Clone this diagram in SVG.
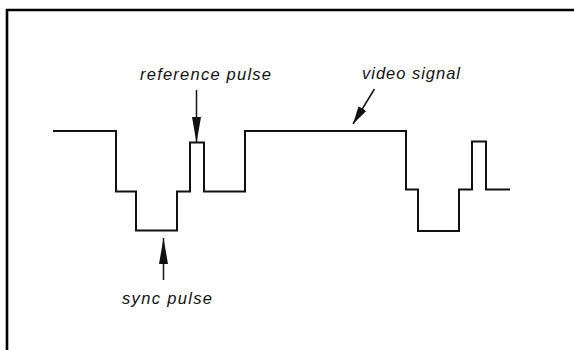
<svg xmlns="http://www.w3.org/2000/svg" width="574" height="350" viewBox="0 0 574 350">
  <style>
    .frame { fill: none; stroke: #000; stroke-width: 2.6; }
    .signal { fill: none; stroke: #111; stroke-width: 2; stroke-linejoin: miter; }
    .arrow { fill: none; stroke: #111; stroke-width: 1.5; }
    .label { font-family: "Liberation Sans", Arial, sans-serif; font-style: italic; font-size: 16.5px; fill: #111; }
  </style>
  <defs>
    <marker id="headLong" markerUnits="userSpaceOnUse" markerWidth="27" markerHeight="10" refX="26" refY="4.5" orient="auto">
      <path d="M0,0 L26,4.5 L0,9 Z" fill="#111"/>
    </marker>
    <marker id="headShort" markerUnits="userSpaceOnUse" markerWidth="19" markerHeight="10" refX="18" refY="4.5" orient="auto">
      <path d="M0,0 L18,4.5 L0,9 Z" fill="#111"/>
    </marker>
  </defs>
  <rect width="574" height="350" fill="#fff"/>
  <path class="frame" d="M7,350 V10 H574"/>
  <g id="waveform">
    <path class="signal" d="M53,131 H116 V191.5 H136 V230.5 H177 V191.5 H190 V142.5 H204 V191.5 H245 V131 H406 V189.5 H418 V231 H459 V189.5 H472 V141.5 H486 V189.5 H510"/>
  </g>
  <g id="reference-pulse">
    <text class="label" x="140" y="80" textLength="131" lengthAdjust="spacing">reference pulse</text>
  </g>
  <g id="video-signal">
    <text class="label" x="362" y="79" textLength="98" lengthAdjust="spacing">video signal</text>
  </g>
  <g id="sync-pulse">
    <text class="label" x="122" y="304" textLength="90" lengthAdjust="spacing">sync pulse</text>
  </g>
  <g id="connectors">
    <line class="arrow" x1="196.5" y1="90" x2="196.5" y2="143" marker-end="url(#headLong)"/>
    <line class="arrow" x1="374.5" y1="89" x2="353" y2="124" marker-end="url(#headShort)"/>
    <line class="arrow" x1="163.5" y1="280" x2="163.5" y2="238" marker-end="url(#headLong)"/>
  </g>
</svg>
